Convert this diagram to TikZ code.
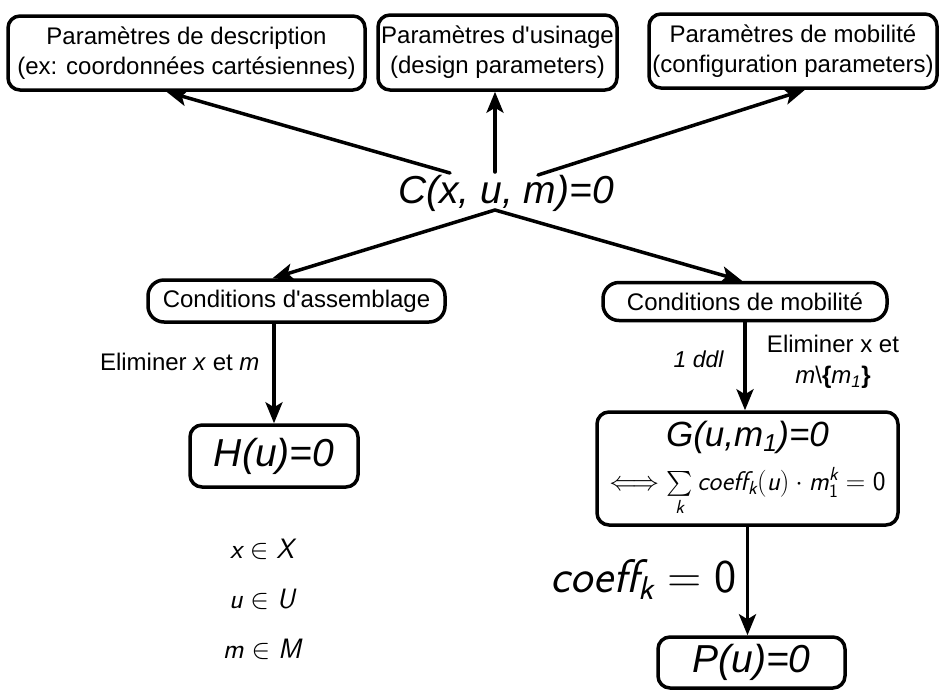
\documentclass[tikz,border=0pt]{standalone}
\usepackage{fix-cm}
\usepackage{amsmath}
\usepackage{fontspec}
\setmainfont{Liberation Sans}
\usetikzlibrary{arrows.meta}
\newcommand{\sfit}[1]{\text{\sffamily\itshape #1}}
\newcommand{\sfup}[1]{\text{\sffamily #1}}
\tikzset{
  box/.style={draw, line width=3.5pt, rounded corners=12pt, inner sep=0pt, align=center},
  arr/.style={line width=3.5pt, -{Stealth[length=21pt,width=17pt,inset=5pt]}},
  big/.style={font=\fontsize{39}{44}\selectfont\itshape}
}
\begin{document}
\begin{tikzpicture}[x=1pt, y=-1pt, line cap=round, line join=round, font=\fontsize{24}{30}\selectfont]
\useasboundingbox (0,0) rectangle (942,689);
% parametres
\node[box, minimum width=357, minimum height=74] (desc) at (186.5,53) {Paramètres de description\\(ex: coordonnées cartésiennes)};
\node[box, minimum width=239, minimum height=75] (usin) at (497.5,52.5) {Paramètres d\textquotesingle usinage\\(design parameters)};
\node[box, minimum width=288, minimum height=74] (mobi) at (793,51) {Paramètres de mobilité\\(configuration parameters)};
% contraintes
\node[big, anchor=base] (C) at (506,203) {C(x, u, m)=0};
\coordinate (Cdesc) at (450,173);
\coordinate (Cusin) at (495,172);
\coordinate (Cmobi) at (538,175);
\coordinate (Cbas) at (495,210);
\draw[arr] (Cdesc) -- ([xshift=-20pt]desc.south);
\draw[arr] (Cusin) -- (Cusin |- usin.south);
\draw[arr] (Cmobi) -- ([xshift=12pt]mobi.south);
% conditions
\node[box, rounded corners=16pt, minimum width=297, minimum height=42] (asm) at (296.5,301) {Conditions d\textquotesingle assemblage};
\node[box, rounded corners=16pt, minimum width=284, minimum height=38] (mob) at (745,301.5) {Conditions de mobilité};
\draw[arr] (Cbas) -- ([xshift=-24pt]asm.north);
\draw[arr] (Cbas) -- ([xshift=-3pt]mob.north);
% gauche
\node[box, big, minimum width=168, minimum height=62] (H) at (274,456) {H(u)=0};
\draw[arr] (H.north |- asm.south) -- (H.north);
\node[anchor=base east] (elimA) at (263,370) {Eliminer \textit{x} et \textit{m}};
\foreach \v/\S/\yy in {x/X/558, u/U/608, m/M/658}{
  \node[anchor=base, font=\fontsize{28}{32}\selectfont] (set\v) at (262,\yy) {$\sfit{\v} \in \sfit{\S}$};
}
% droite
\node[box, minimum width=301, minimum height=113] (G) at (747.5,468.5)
  {{\fontsize{35}{38}\selectfont\itshape G(u,m\textsubscript{1})=0}\\[13pt]
   {\fontsize{27}{30}\selectfont $\Longleftrightarrow \sum\limits_{\sfit{k}} \sfit{coeff}_{\sfit{k}}(\sfit{u}) \cdot \sfit{m}_{\sfup{1}}^{\sfit{k}} = \sfup{0}$}};
\draw[arr] (mob.south) -- (mob.south |- G.north);
\node[anchor=base east, font=\fontsize{23}{28}\selectfont\itshape] (ddl) at (727,367) {1 ddl};
\node[align=center, font=\fontsize{24}{31}\selectfont] (elimB) at (833,362) {Eliminer x et\\\textit{m}\textbackslash\textbf{\{}\textit{m\textsubscript{1}}\textbf{\}}};
\node[box, big, minimum width=187, minimum height=51] (P) at (751.5,662.5) {P(u)=0};
\draw[arr] (G.south) -- (G.south |- P.north);
\node[anchor=base east, font=\fontsize{47}{52}\selectfont] (coef) at (740,592) {$\sfit{coeff}_{\sfit{k}} = \sfup{0}$};
\end{tikzpicture}
\end{document}
